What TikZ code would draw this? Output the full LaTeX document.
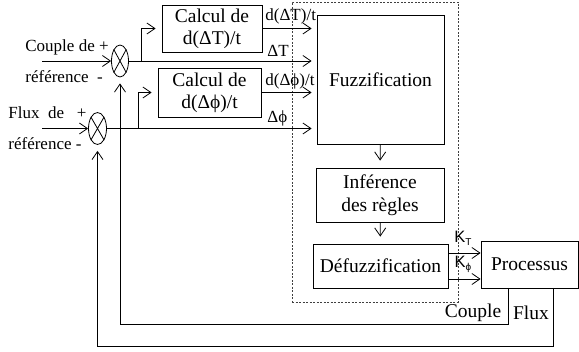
\documentclass[tikz,border=0pt]{standalone}
\usepackage{fontspec}
\setmainfont{Liberation Serif}
\newfontfamily\kfont{Liberation Sans}
\usetikzlibrary{shapes.geometric,arrows.meta}
\newcommand\grand{\fontsize{19.5}{22}\selectfont}
\newcommand\petit{\fontsize{17}{20}\selectfont}
\newcommand\kgros{\kfont\fontsize{16.5}{18}\selectfont}
\newcommand\indice[1]{\raisebox{-3pt}{\fontsize{10}{10}\selectfont #1}}

\begin{document}
\begin{tikzpicture}[x=1pt,y=-1pt,line width=0.8pt,
	bloc/.style={draw,rectangle,inner sep=0pt,align=center,font=\grand},
	somme/.style={draw,ellipse,minimum width=17pt,minimum height=32pt,inner sep=0pt},
	fleche/.style={-{Straight Barb[length=8pt,width=11pt]}},
	lbl/.style={inner sep=0pt,font=\petit},
	gain/.style={inner sep=0pt,font=\kgros}]
	\useasboundingbox (0,0) rectangle (579,352);

	\node[draw=black!75,dashed,dash pattern=on 2pt off 1.5pt,line width=0.5pt,minimum width=166pt,minimum height=300pt,inner sep=0pt] (regul) at (375,152) {};

	\node[somme] (sum1) at (120,61) {};
	\draw (sum1.north west) -- (sum1.south east) (sum1.north east) -- (sum1.south west);
	\node[somme,minimum width=18pt] (sum2) at (97.5,128.5) {};
	\draw (sum2.north west) -- (sum2.south east) (sum2.north east) -- (sum2.south west);

	\node[lbl,anchor=west] (cref1) at (25,47) {Couple de +};
	\node[lbl,anchor=west] (cref2) at (25,77) {référence\ \ -};
	\node[lbl,anchor=west] (fref1) at (8,113) {Flux\ \ de\ \ \ +};
	\node[lbl,anchor=west] (fref2) at (8,144) {référence -};

	\node[bloc,minimum width=100pt,minimum height=47pt] (calc1) at (212,28.5) {Calcul de\\d(ΔT)/t};
	\node[bloc,minimum width=103pt,minimum height=49pt] (calc2) at (209.5,92.5) {Calcul de\\d(Δϕ)/t};
	\node[bloc,minimum width=127pt,minimum height=129pt] (fuzz) at (380.5,79.5) {Fuzzification};
	\node[bloc,minimum width=128pt,minimum height=54pt,font=\fontsize{19.5}{23}\selectfont] (infer) at (380,195) {Inférence\\des règles};
	\node[bloc,minimum width=135pt,minimum height=44pt] (defuzz) at (380.5,266) {Défuzzification};
	\node[bloc,minimum width=97pt,minimum height=47pt] (proc) at (529.5,264.5) {Processus};

	\coordinate (e1) at (42,61);
	\coordinate (e2) at (42,128.5);
	\draw[fleche] (e1) -- (sum1.west);
	\draw[fleche] (e2) -- (sum2.west);

	\coordinate (b1) at (141,61);
	\coordinate (b2) at (138,128.5);
	\draw[fleche,shorten >=6pt] (b1) |- (calc1.west);
	\draw[fleche,shorten >=6pt] (b2) |- (calc2.west);

	\draw[fleche,shorten >=5pt] (calc1.east) -- (calc1.east -| fuzz.west);
	\draw[fleche,shorten >=5pt] (sum1.east) -- (sum1.east -| fuzz.west);
	\draw[fleche,shorten >=5pt] (calc2.east) -- (calc2.east -| fuzz.west);
	\draw[fleche,shorten >=5pt] (sum2.east) -- (sum2.east -| fuzz.west);
	\node[lbl,anchor=west] (dT) at (265,16) {d(ΔT)/t};
	\node[lbl,anchor=west] (T) at (267,51) {ΔT};
	\node[lbl,anchor=west] (dP) at (265,81) {d(Δϕ)/t};
	\node[lbl,anchor=west] (P) at (267,118) {Δϕ};

	\draw[fleche,shorten >=7pt] (fuzz) -- (infer);
	\draw[fleche,shorten >=7pt] (infer) -- (defuzz);

	\draw[fleche] ([yshift=13pt]defuzz.east) -- ([yshift=13pt]defuzz.east -| proc.west);
	\draw[fleche] ([yshift=-13pt]defuzz.east) -- ([yshift=-13pt]defuzz.east -| proc.west);
	\node[gain] (kt) at (463,238) {K\indice{T}};
	\node[gain] (kp) at (463,264) {K\indice{ϕ}};

	\coordinate (sc) at (508,288);
	\coordinate (sf) at (553,288);
	\coordinate (r1) at (120,324);
	\coordinate (r2) at (97.5,346);
	\draw[fleche,shorten >=6pt] (sc) |- (r1) -- (sum1.south);
	\draw[fleche,shorten >=6pt] (sf) |- (r2) -- (sum2.south);
	\node[lbl,font=\grand] (tc) at (473,313) {Couple};
	\node[lbl,font=\grand] (tf) at (531,313) {Flux};
\end{tikzpicture}
\end{document}
